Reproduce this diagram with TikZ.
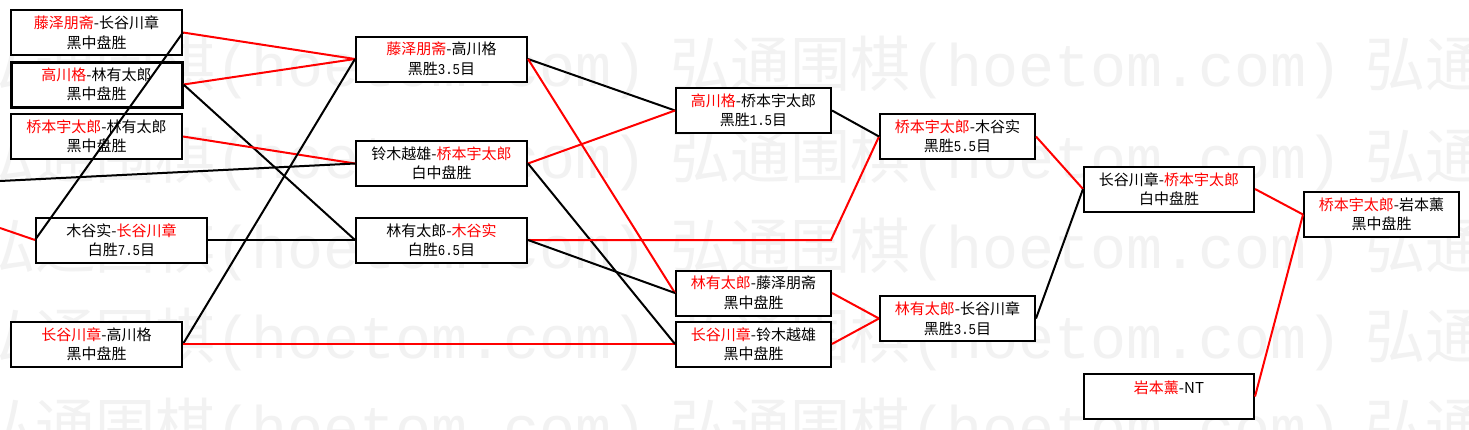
\documentclass[tikz,border=0pt]{standalone}
\usepackage{graphicx}
\usepackage{fontspec}
\setmainfont{Noto Sans CJK SC}
\newfontfamily\monofont{Liberation Mono}
\newcommand{\rd}[1]{\textcolor{red}{#1}}
\newcommand{\nm}[1]{\scalebox{0.83}[1]{\monofont\fontsize{15pt}{19pt}\selectfont #1}}
\tikzset{
  mbox/.style={draw=black, line width=2pt, fill=white, minimum height=45pt,
    inner sep=0pt, align=center, font=\fontsize{15pt}{19.5pt}\selectfont},
  wA/.style={mbox, minimum width=171pt},
  wB/.style={mbox, minimum width=155pt},
  wC/.style={mbox, minimum width=170pt},
  rl/.style={draw=red, line width=2pt},
  bl/.style={draw=black, line width=2pt},
  wm/.style={text=black!5, font=\fontsize{60pt}{60pt}\selectfont, anchor=west, inner sep=0pt},
}
\begin{document}
\begin{tikzpicture}[x=1pt,y=-1pt]
\useasboundingbox (0,0) rectangle (1469,429);
\fill[white] (0,0) rectangle (1469,429);
% watermark
\begin{scope}
\clip (0,0) rectangle (1469,429);
\foreach \r/\yy in {1/68,2/160,3/250,4/340,5/430}
  \foreach \c/\xx in {1/-25,2/670,3/1365}
    \node[wm] (w\r\c) at (\xx,\yy) {弘通围棋{\monofont(hoetom.com)}};
\end{scope}
% round 1
\node[wA] (A) at (96.5,32.5) {\rd{藤泽朋斋}-长谷川章\\黑中盘胜};
\node[wA, line width=3pt] (B) at (96.5,84.5) {\rd{高川格}-林有太郎\\黑中盘胜};
\node[wA] (C) at (96.5,136.5) {\rd{桥本宇太郎}-林有太郎\\黑中盘胜};
\node[wA] (D) at (121.5,240) {木谷实-\rd{长谷川章}\\白胜\nm{7.5}目};
\node[wA] (E) at (96.5,344) {\rd{长谷川章}-高川格\\黑中盘胜};
% round 2
\node[wA] (F) at (441.5,59) {\rd{藤泽朋斋}-高川格\\黑胜\nm{3.5}目};
\node[wA] (G) at (441.5,163.5) {铃木越雄-\rd{桥本宇太郎}\\白中盘胜};
\node[wA] (H) at (441.5,240) {林有太郎-\rd{木谷实}\\白胜\nm{6.5}目};
% round 3
\node[wB] (I) at (753.5,110.5) {\rd{高川格}-桥本宇太郎\\黑胜\nm{1.5}目};
\node[wB] (J) at (753.5,293) {\rd{林有太郎}-藤泽朋斋\\黑中盘胜};
\node[wB] (K) at (753.5,344) {\rd{长谷川章}-铃木越雄\\黑中盘胜};
% round 4
\node[wB] (L) at (957.5,136.5) {\rd{桥本宇太郎}-木谷实\\黑胜\nm{5.5}目};
\node[wB] (M) at (957.5,318.5) {\rd{林有太郎}-长谷川章\\黑胜\nm{3.5}目};
% round 5
\node[wC] (N) at (1169,189) {长谷川章-\rd{桥本宇太郎}\\白中盘胜};
\node[wC] (O) at (1169,396.5) {\rd{岩本薰}-NT\\\mbox{}};
% final
\node[wB] (P) at (1381.5,214.5) {\rd{桥本宇太郎}-岩本薰\\黑中盘胜};
% free ends
\coordinate (x1) at (0,181);
\coordinate (x2) at (0,228);
\coordinate (hk) at (831,240);
% connectors
\draw[rl] (A.east) -- (F.west);
\draw[rl] (B.east) -- (F.west);
\draw[bl] (B.east) -- (H.west);
\draw[rl] (C.east) -- (G.west);
\draw[bl] (x1) -- (G.west);
\draw[bl] (D.west) -- (A.east);
\draw[rl] (x2) -- (D.west);
\draw[bl] (D.east) -- (H.west);
\draw[bl] (E.east) -- (F.west);
\draw[rl] (E.east) -- (K.west);
\draw[bl] (F.east) -- (I.west);
\draw[rl] (F.east) -- (J.west);
\draw[rl] (G.east) -- (I.west);
\draw[bl] (G.east) -- (K.west);
\draw[rl] (H.east) -- (hk) -- (L.west);
\draw[bl] (H.east) -- (J.west);
\draw[bl] (I.east) -- (L.west);
\draw[rl] (J.east) -- (M.west);
\draw[rl] (K.east) -- (M.west);
\draw[rl] (L.east) -- (N.west);
\draw[bl] (M.east) -- (N.west);
\draw[rl] (N.east) -- (P.west);
\draw[rl] (O.east) -- (P.west);
\end{tikzpicture}
\end{document}
